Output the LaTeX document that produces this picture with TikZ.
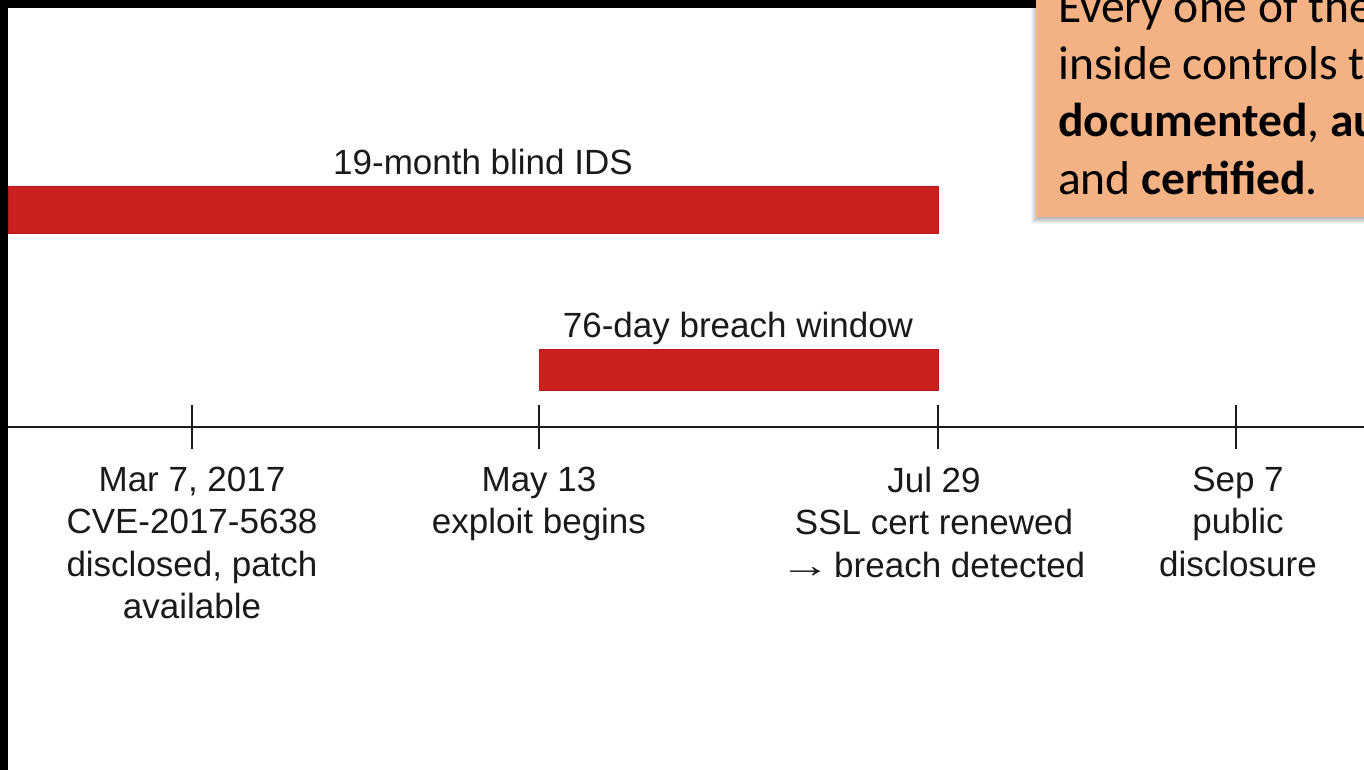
\documentclass[tikz,border=0pt]{standalone}
\usepackage{fontspec}
\usepackage{graphicx}
\setmainfont{Liberation Sans}
\newfontfamily\calibri{Carlito}
\definecolor{barred}{HTML}{CC1F1F}
\definecolor{bardark}{HTML}{B51818}
\definecolor{notebox}{HTML}{F4B183}
\definecolor{ink}{HTML}{1A1A1A}
\begin{document}
\begin{tikzpicture}[x=1pt,y=-1pt,
  lbl/.style={font=\fontsize{35}{42.3}\selectfont, text=ink, align=center, inner sep=0pt},
  barlbl/.style={font=\fontsize{35}{42}\selectfont, text=ink, anchor=base, inner sep=0pt},
  bar/.style={fill=barred, draw=bardark, line width=1pt},
  axis/.style={draw=ink, line width=2.8pt},
  tick/.style={draw=ink, line width=2.8pt},
  note/.style={font=\calibri\fontsize{47.5}{57}\selectfont, text=black, anchor=base west, inner sep=0pt}]
\useasboundingbox (0,0) rectangle (1364,770);
\clip (0,0) rectangle (1364,770);
\fill[white] (0,0) rectangle (1364,770);
% frame edges
\fill[black] (0,0) rectangle (1040,8);
\fill[black] (0,0) rectangle (8,770);
% bars
\draw[bar] (8,187) rectangle (938,233);
\node[barlbl] (blind) at (483,175) {19-month blind IDS};
\draw[bar] (539,349) rectangle (938,390);
\node[barlbl] (window) at (738,337) {76-day breach window};
% axis
\coordinate (axL) at (8,427);
\coordinate (axR) at (1364,427);
\draw[axis] (axL) -- (axR);
\foreach \n/\x in {t1/192, t2/539, t3/938, t4/1236}{
  \coordinate (\n top) at (\x,405);
  \coordinate (\n bot) at (\x,449);
  \draw[tick] (\n top) -- (\n bot);
}
\node[lbl, anchor=north] (l1) at (192,467) {Mar 7, 2017\\CVE-2017-5638\\disclosed, patch\\available};
\node[lbl, anchor=north] (l2) at (539,467) {May 13\\exploit begins};
\node[lbl, anchor=north] (l3) at (934,467) {Jul 29\\SSL cert renewed\\\hspace{-3pt}\scalebox{1.45}[1]{→}\hspace{-6pt} breach detected};
\node[lbl, anchor=north] (l4) at (1238,467) {Sep 7\\public\\disclosure};
% note box with soft shadow
\foreach \i in {1,...,7}{
  \fill[black, opacity=0.045] (1036-\i+2,-10) rectangle (1400,217+\i);
}
\fill[notebox] (1036,-10) rectangle (1400,217);
\node[note] (n1) at (1058,23) {Every one of these};
\node[note] (n2) at (1058,80) {inside controls that};
\node[note] (n3) at (1058,137) {\textbf{documented}, \textbf{audited}};
\node[note] (n4) at (1058,194) {and \textbf{certified}.};
\end{tikzpicture}
\end{document}
